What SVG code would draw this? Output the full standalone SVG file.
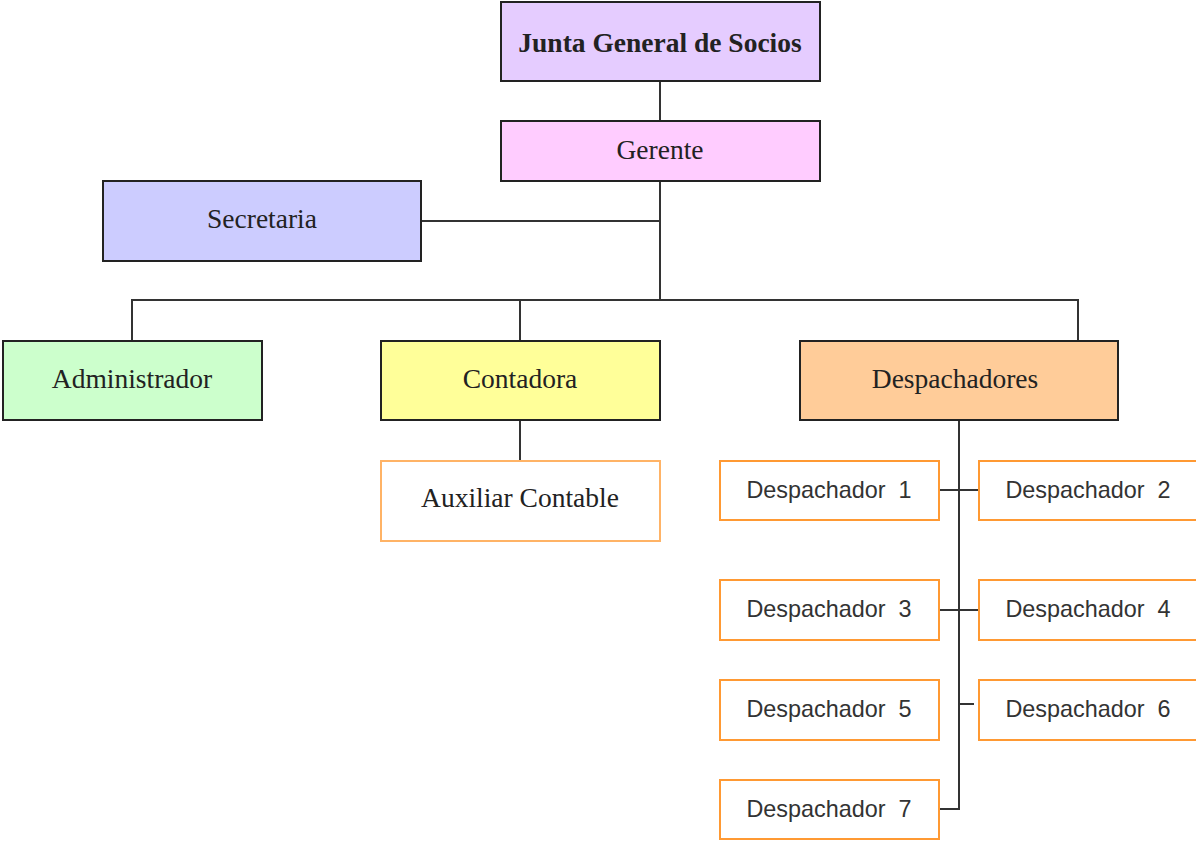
<svg xmlns="http://www.w3.org/2000/svg" width="1196" height="842" viewBox="0 0 1196 842">
<style>
.box{stroke:#222;stroke-width:2}
.serif{font-family:"Liberation Serif","Times New Roman",serif;font-size:27.5px;fill:#222;text-anchor:middle}
.sans{font-family:"Liberation Sans",Arial,sans-serif;font-size:23.4px;fill:#333;text-anchor:middle}
.desp{fill:#fff;stroke:#ff9933;stroke-width:2}
.conn{stroke:#333;stroke-width:2;fill:none}
</style>
<rect width="1196" height="842" fill="#fff"/>
<g id="connectors">
<path class="conn" d="M660 81V121"/>
<path class="conn" d="M660 181V300"/>
<path class="conn" d="M421 221H660"/>
<path class="conn" d="M132 341V300H1078V341"/>
<path class="conn" d="M520 300V341"/>
<path class="conn" d="M520 420V461"/>
<path class="conn" d="M959 420V809H939"/>
<path class="conn" d="M939 490H979"/>
<path class="conn" d="M939 610H979"/>
<path class="conn" d="M959 704H974"/>
</g>
<g id="junta"><rect class="box" x="501" y="2" width="319" height="79" fill="#e5ccff"/><text class="serif" x="660" y="52" font-weight="bold">Junta General de Socios</text></g>
<g id="gerente"><rect class="box" x="501" y="121" width="319" height="60" fill="#ffccff"/><text class="serif" x="660" y="159">Gerente</text></g>
<g id="secretaria"><rect class="box" x="103" y="181" width="318" height="80" fill="#ccccff"/><text class="serif" x="262" y="228">Secretaria</text></g>
<g id="administrador"><rect class="box" x="3" y="341" width="259" height="79" fill="#ccffcc"/><text class="serif" x="132" y="388">Administrador</text></g>
<g id="contadora"><rect class="box" x="381" y="341" width="279" height="79" fill="#ffff99"/><text class="serif" x="520" y="388">Contadora</text></g>
<g id="despachadores"><rect class="box" x="800" y="341" width="318" height="79" fill="#ffcc99"/><text class="serif" x="955" y="388">Despachadores</text></g>
<g id="auxiliar"><rect x="381" y="461" width="279" height="80" fill="#fff" stroke="#ffb366" stroke-width="2"/><text class="serif" x="520" y="507">Auxiliar Contable</text></g>
<g id="d1"><rect class="desp" x="720" y="461" width="219" height="59"/><text class="sans" x="829" y="498" xml:space="preserve">Despachador  1</text></g>
<g id="d2"><rect class="desp" x="979" y="461" width="219" height="59"/><text class="sans" x="1088" y="498" xml:space="preserve">Despachador  2</text></g>
<g id="d3"><rect class="desp" x="720" y="580" width="219" height="60"/><text class="sans" x="829" y="617" xml:space="preserve">Despachador  3</text></g>
<g id="d4"><rect class="desp" x="979" y="580" width="219" height="60"/><text class="sans" x="1088" y="617" xml:space="preserve">Despachador  4</text></g>
<g id="d5"><rect class="desp" x="720" y="680" width="219" height="60"/><text class="sans" x="829" y="717" xml:space="preserve">Despachador  5</text></g>
<g id="d6"><rect class="desp" x="979" y="680" width="219" height="60"/><text class="sans" x="1088" y="717" xml:space="preserve">Despachador  6</text></g>
<g id="d7"><rect class="desp" x="720" y="780" width="219" height="59"/><text class="sans" x="829" y="817" xml:space="preserve">Despachador  7</text></g>
</svg>
